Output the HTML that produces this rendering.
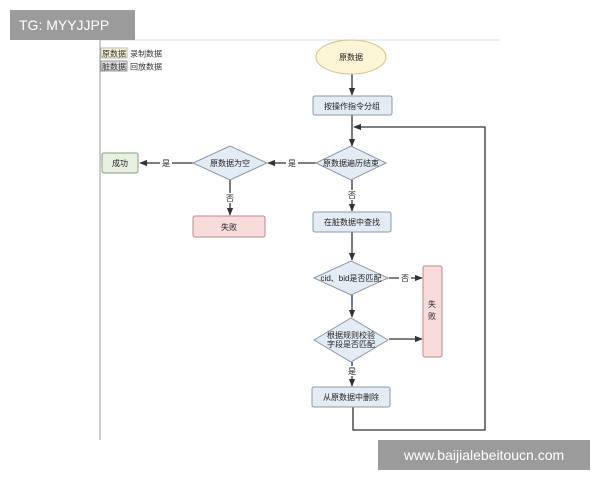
<!DOCTYPE html>
<html><head><meta charset="utf-8"><style>
body{margin:0;background:#fff;width:600px;height:480px;overflow:hidden;font-family:"Liberation Sans","Noto Sans CJK SC",sans-serif}
</style></head><body>
<svg width="600" height="480" xmlns="http://www.w3.org/2000/svg" font-family="Liberation Sans, Noto Sans CJK SC, sans-serif">
<defs><marker id="a" viewBox="0 0 10 10" refX="9" refY="5" markerWidth="6" markerHeight="6" orient="auto"><path d="M0,1 L10,5 L0,9 z" fill="#333"/></marker></defs>
<line x1="100" y1="40" x2="500" y2="40" stroke="#ddd"/>
<line x1="100" y1="40" x2="100" y2="440" stroke="#999"/>
<rect x="101" y="48" width="26" height="10" fill="#fbf3d5" stroke="#bba"/>
<text x="114" y="56.5" font-size="8" text-anchor="middle" fill="#333">原数据</text>
<text x="130" y="56.5" font-size="8" fill="#333">录制数据</text>
<rect x="101" y="61" width="26" height="10" fill="#ddd" stroke="#999"/>
<text x="114" y="69.5" font-size="8" text-anchor="middle" fill="#333">脏数据</text>
<text x="130" y="69.5" font-size="8" fill="#333">回放数据</text>
<g stroke="#333" stroke-width="1.3" fill="none">
<line x1="352" y1="74" x2="352" y2="95" marker-end="url(#a)"/>
<line x1="352" y1="115" x2="352" y2="146" marker-end="url(#a)"/>
<polyline points="353,407 353,430 485,430 485,127 354,127" marker-end="url(#a)"/>
<line x1="316" y1="163" x2="268" y2="163" marker-end="url(#a)"/>
<line x1="193" y1="163" x2="140" y2="163" marker-end="url(#a)"/>
<line x1="230" y1="180" x2="230" y2="215" marker-end="url(#a)"/>
<line x1="352" y1="180" x2="352" y2="211" marker-end="url(#a)"/>
<line x1="352" y1="232" x2="352" y2="260" marker-end="url(#a)"/>
<line x1="389" y1="278" x2="422" y2="278" marker-end="url(#a)"/>
<line x1="352" y1="295" x2="352" y2="317" marker-end="url(#a)"/>
<line x1="389" y1="339" x2="422" y2="339" marker-end="url(#a)"/>
<line x1="352" y1="362" x2="352" y2="386" marker-end="url(#a)"/>
</g>
<ellipse cx="351" cy="57" rx="35" ry="17" fill="#fcf5d6" stroke="#cfc48a"/>
<rect x="313" y="96" width="79" height="19" rx="2" fill="#e3ecf5" stroke="#8a98a8"/>
<polygon points="316,163 351,146 386,163 351,180" fill="#e3ecf5" stroke="#8a98a8"/>
<polygon points="193,163 230,146 267,163 230,180" fill="#e3ecf5" stroke="#8a98a8"/>
<rect x="102" y="153" width="36" height="20" rx="2" fill="#e6f2df" stroke="#8a9a88"/>
<rect x="193" y="216" width="72" height="21" rx="2" fill="#f8dcdc" stroke="#c08888"/>
<rect x="313" y="212" width="78" height="20" rx="2" fill="#e3ecf5" stroke="#8a98a8"/>
<polygon points="314,278 351,261 388,278 351,295" fill="#e3ecf5" stroke="#8a98a8"/>
<polygon points="314,340 351,318 388,340 351,362" fill="#e3ecf5" stroke="#8a98a8"/>
<rect x="423" y="266" width="19" height="91" rx="2" fill="#f8dcdc" stroke="#c08888"/>
<rect x="312" y="387" width="78" height="20" rx="2" fill="#e3ecf5" stroke="#8a98a8"/>
<g font-size="8" fill="#222" text-anchor="middle">
<text x="351" y="60">原数据</text>
<text x="352" y="109">按操作指令分组</text>
<text x="351" y="166">原数据遍历结束</text>
<text x="230" y="166">原数据为空</text>
<text x="120" y="166">成功</text>
<text x="229" y="230">失败</text>
<text x="352" y="225">在脏数据中查找</text>
<text x="351" y="281">cid、bid是否匹配</text>
<text x="351" y="338">根据规则校验</text>
<text x="351" y="347">字段是否匹配</text>
<text x="432" y="307">失</text>
<text x="432" y="319">败</text>
<text x="351" y="400">从原数据中删除</text>
</g>
<g font-size="8" fill="#222" text-anchor="middle">
<rect x="286" y="158" width="12" height="10" fill="#fff"/><text x="292" y="166">是</text>
<rect x="160" y="158" width="12" height="10" fill="#fff"/><text x="166" y="166">是</text>
<rect x="224" y="193" width="12" height="10" fill="#fff"/><text x="230" y="201">否</text>
<rect x="346" y="190" width="12" height="10" fill="#fff"/><text x="352" y="198">否</text>
<rect x="399" y="273" width="12" height="10" fill="#fff"/><text x="405" y="281">否</text>
<rect x="346" y="366" width="12" height="10" fill="#fff"/><text x="352" y="374">是</text>
</g>
<rect x="10" y="10" width="125" height="30" fill="#9b9b9b"/>
<text x="19" y="30" font-size="14" fill="#fff">TG: MYYJJPP</text>
<rect x="378" y="440" width="212" height="30" fill="#9b9b9b"/>
<text x="484" y="460" font-size="14" fill="#fff" text-anchor="middle">www.baijialebeitoucn.com</text>
</svg>
</body></html>
